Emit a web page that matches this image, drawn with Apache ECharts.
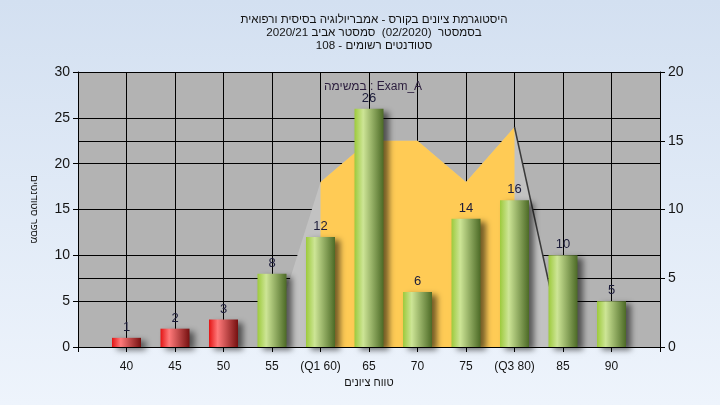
<!DOCTYPE html>
<html><head><meta charset="utf-8">
<script src="https://cdn.jsdelivr.net/npm/echarts@6/dist/echarts.min.js"></script>
<style>html,body{margin:0;padding:0;}#c{width:720px;height:405px;}</style>
</head><body><div id="c"></div>
<script>
// Data
const categories = ['', '40', '45', '50', '55', '(Q1 60)', '65', '70', '75', '(Q3 80)', '85', '90', ''];
const counts = [null, 1, 2, 3, 8, 12, 26, 6, 14, 16, 10, 5, null];
const redUpTo = 3; // categories 40,45,50 drawn red
const areaAll = [null, null, null, null, 0.8, 12, 15, 15, 12, 16, 0, null, null];
const areaQ = [null, null, null, null, null, 12, 15, 15, 12, 16, null, null, null];
const edgeLine = [null, null, null, null, null, null, null, null, null, 16, 0, null, null];
const leftTicks = {min: 0, max: 30, interval: 5};
const rightTicks = {min: 0, max: 20, interval: 5};
const titleLines = [
  'היסטוגרמת ציונים בקורס - אמבריולוגיה בסיסית ורפואית',
  'בסמסטר  (02/2020)  סמסטר אביב 2020/21',
  'סטודנטים רשומים - 108'
];
const subTitle = 'במשימה : Exam_A';
const yName = 'מספר סטודנטים';
const xName = 'טווח ציונים';

const FONT = '"Liberation Sans", "DejaVu Sans", sans-serif';
const TXT = '#141414';
function grad(c0, c1, c2) {
  return new echarts.graphic.LinearGradient(0, 0, 1, 0, [
    {offset: 0, color: c0}, {offset: 0.3, color: c1}, {offset: 1, color: c2}
  ]);
}
const greenG = grad('#9dca3c', '#cde596', '#4c6a26');
const redG = grad('#e31414', '#ff7a7a', '#761010');

const barData = counts.map((v, i) => v == null ? null : ({
  value: v,
  itemStyle: {color: (i >= 1 && i <= redUpTo) ? redG : greenG}
}));

const chart = echarts.init(document.getElementById('c'), null, {renderer: 'canvas'});
chart.setOption({
  animation: false,
  backgroundColor: new echarts.graphic.LinearGradient(0, 0, 0, 1, [
    {offset: 0, color: '#d3e0f1'}, {offset: 1, color: '#eef4fc'}
  ]),
  title: [{
    text: titleLines.join('\n'),
    left: 369, top: 8, textAlign: 'center',
    textStyle: {fontFamily: FONT, fontSize: 11.6, fontWeight: 'normal', color: TXT, lineHeight: 13}
  }, {
    text: subTitle,
    left: 368, top: 76, textAlign: 'center',
    textStyle: {fontFamily: FONT, fontSize: 12, fontWeight: 'normal', color: '#2b1d3d'}
  }],
  grid: {left: 78, right: 60, top: 72, bottom: 58, show: true, backgroundColor: '#b3b3b3', borderWidth: 0},
  xAxis: {
    type: 'category', data: categories, boundaryGap: false,
    name: xName, nameLocation: 'middle', nameGap: 30,
    nameTextStyle: {fontFamily: FONT, fontSize: 11, color: TXT},
    axisLine: {lineStyle: {color: '#000', width: 1}},
    axisTick: {show: true, length: 5, lineStyle: {color: '#000'}, alignWithLabel: true},
    axisLabel: {fontFamily: FONT, fontSize: 12, color: TXT, margin: 14, interval: 0},
    splitLine: {show: true, lineStyle: {color: '#000', width: 1}}
  },
  yAxis: [{
    type: 'value', min: leftTicks.min, max: leftTicks.max, interval: leftTicks.interval,
    name: yName, nameLocation: 'middle', nameGap: 39, nameRotate: -90,
    nameTextStyle: {fontFamily: FONT, fontSize: 10, color: TXT},
    axisLine: {show: true, lineStyle: {color: '#000'}},
    axisTick: {show: true, length: 5, lineStyle: {color: '#000'}},
    axisLabel: {fontFamily: FONT, fontSize: 14, color: TXT, margin: 8},
    splitLine: {show: true, lineStyle: {color: '#000', width: 1}}
  }, {
    type: 'value', min: rightTicks.min, max: rightTicks.max, interval: rightTicks.interval,
    position: 'right',
    axisLine: {show: true, lineStyle: {color: '#000'}},
    axisTick: {show: true, length: 5, lineStyle: {color: '#000'}},
    axisLabel: {fontFamily: FONT, fontSize: 14, color: TXT, margin: 8},
    splitLine: {show: true, lineStyle: {color: '#000', width: 1}}
  }],
  series: [{
    type: 'line', yAxisIndex: 1, data: areaAll, symbol: 'none', z: 1,
    lineStyle: {width: 0, opacity: 0},
    areaStyle: {color: '#c2c2c2', opacity: 1}
  }, {
    type: 'line', yAxisIndex: 1, data: areaQ, symbol: 'none', z: 2,
    lineStyle: {width: 0, opacity: 0},
    areaStyle: {color: '#ffcb55', opacity: 1}
  }, {
    type: 'line', yAxisIndex: 1, data: edgeLine, symbol: 'none', z: 3,
    lineStyle: {width: 1.5, color: '#3a3a3a'}
  }, {
    type: 'bar', yAxisIndex: 0, data: barData, barWidth: 29, z: 5,
    itemStyle: {shadowColor: 'rgba(0,0,0,0.55)', shadowBlur: 6, shadowOffsetX: 5, shadowOffsetY: 3},
    label: {show: true, position: 'top', distance: 4, fontFamily: FONT, fontSize: 13, color: '#1c1c3a'}
  }]
});
</script>
</body></html>
